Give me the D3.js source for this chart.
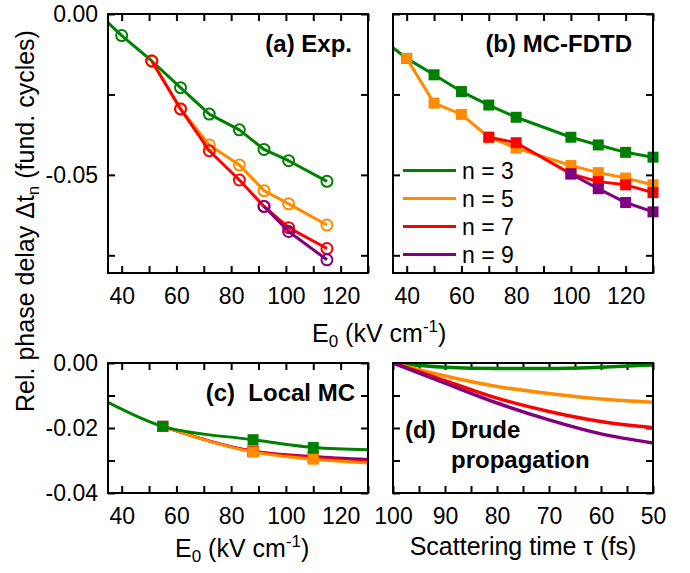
<!DOCTYPE html>
<html>
<head>
<meta charset="utf-8">
<script src="https://cdn.jsdelivr.net/npm/d3@7"></script>
<style>
  body { margin: 0; background: #fff; }
  svg { font-family: "Liberation Sans", Arial, sans-serif; }
</style>
</head>
<body>
<svg id="chart" width="690" height="573"></svg>
<script>
// (a) experiment
var expField = [35, 40, 51, 61.5, 72, 83, 92, 101, 115];
var expN3 = [-0.0027, -0.0067, -0.0146, -0.0229, -0.0311, -0.0360, -0.0421, -0.0456, -0.0520];
var expN5 = [null, null, -0.0146, -0.0295, -0.0407, -0.0469, -0.0549, -0.0590, -0.0656];
var expN7 = [null, null, -0.0146, -0.0295, -0.0425, -0.0516, -0.0598, -0.0664, -0.0729];
var expN9 = [null, null, null, null, null, null, -0.0598, -0.0676, -0.0764];

// (b) MC-FDTD
var fdtdField = [35, 40, 50, 60, 70, 80, 100, 110, 120, 130];
var fdtdN3 = [-0.0105, -0.0138, -0.0189, -0.0241, -0.0283, -0.0321, -0.0383, -0.0407, -0.0430, -0.0445];
var fdtdN5 = [null, -0.0138, -0.0277, -0.0312, -0.0383, -0.0417, -0.0471, -0.0493, -0.0510, -0.0531];
var fdtdN7 = [null, null, null, null, -0.0383, -0.0400, -0.0497, -0.0521, -0.0531, -0.0555];
var fdtdN9 = [null, null, null, null, null, null, -0.0497, -0.0543, -0.0586, -0.0615];

// (c) local MC (fit line, markers only at simulated fields)
var mcField = [35, 55, 88, 110, 130];
var mcMarkField = [55, 88, 110];
var mcN3 = [-0.0121, -0.0195, -0.0236, -0.0260, -0.0267];
var mcN5 = [null, -0.0195, -0.0274, -0.0296, -0.0308];
var mcN7 = [null, -0.0195, -0.0272, -0.0291, -0.0304];
var mcN9 = [null, -0.0195, -0.0271, -0.0288, -0.0297];

// (d) Drude propagation
var tau = [100, 90, 80, 70, 60, 50];
var drudeN3 = [0, -0.0013, -0.0017, -0.0017, -0.0013, -0.0006];
var drudeN5 = [0, -0.0040, -0.0072, -0.0094, -0.0111, -0.0121];
var drudeN7 = [0, -0.0054, -0.0108, -0.0149, -0.0180, -0.0199];
var drudeN9 = [0, -0.0062, -0.0123, -0.0175, -0.0218, -0.0246];

var harmonics = ["n = 3", "n = 5", "n = 7", "n = 9"];
var colors = ["#008000", "#ff8c00", "#ff0000", "#800080"];

var fieldTicks = [40, 50, 60, 70, 80, 90, 100, 110, 120, 130];
var fieldTickLabels = ["40", "", "60", "", "80", "", "100", "", "120", ""];
var topYTicks = [0, -0.025, -0.05, -0.075];
var topYTickLabels = ["0.00", "", "-0.05", ""];
var botYTicks = [0, -0.01, -0.02, -0.03, -0.04];
var botYTickLabels = ["0.00", "", "-0.02", "", "-0.04"];
var tauTicks = [100, 95, 90, 85, 80, 75, 70, 65, 60, 55, 50];
var tauTickLabels = ["100", "", "90", "", "80", "", "70", "", "60", "", "50"];

var svg = d3.select("#chart");
var TICK = 7;

function zip(xs, ys) {
  var out = [];
  xs.forEach(function (x, i) { if (ys[i] !== null) out.push({ x: x, y: ys[i] }); });
  return out;
}

function drawPanel(o) {
  var x = d3.scaleLinear().domain(o.xDomain).range([o.left, o.right]);
  var y = d3.scaleLinear().domain(o.yDomain).range([o.bottom, o.top]);
  var g = svg.append("g");

  var clipId = "clip-" + o.id;
  svg.append("clipPath").attr("id", clipId)
    .append("rect")
    .attr("x", o.left).attr("y", o.top)
    .attr("width", o.right - o.left).attr("height", o.bottom - o.top);

  // axes, ticks pointing inwards on all four sides
  function labelFor(vals, labels) {
    return function (d) { return labels[vals.indexOf(d)]; };
  }
  var bottom = g.append("g").attr("transform", "translate(0," + o.bottom + ")")
    .call(d3.axisBottom(x).tickValues(o.xTicks).tickSizeInner(-TICK).tickSizeOuter(0)
      .tickPadding(15).tickFormat(labelFor(o.xTicks, o.xTickLabels)));
  var top = g.append("g").attr("transform", "translate(0," + o.top + ")")
    .call(d3.axisTop(x).tickValues(o.xTicks).tickSizeInner(-TICK).tickSizeOuter(0).tickFormat(""));
  var left = g.append("g").attr("transform", "translate(" + o.left + ",0)")
    .call(d3.axisLeft(y).tickValues(o.yTicks).tickSizeInner(-TICK).tickSizeOuter(0)
      .tickPadding(10).tickFormat(o.showY ? labelFor(o.yTicks, o.yTickLabels) : ""));
  var right = g.append("g").attr("transform", "translate(" + o.right + ",0)")
    .call(d3.axisRight(y).tickValues(o.yTicks).tickSizeInner(-TICK).tickSizeOuter(0).tickFormat(""));

  [bottom, top, left, right].forEach(function (a) {
    a.select(".domain").remove();
    a.selectAll(".tick line").attr("stroke", "#000").attr("stroke-width", 2);
    a.selectAll(".tick text").attr("font-size", 23).attr("fill", "#000")
      .attr("font-family", "'Liberation Sans', Arial, sans-serif");
  });

  // series
  var line = d3.line()
    .x(function (d) { return x(d.x); })
    .y(function (d) { return y(d.y); })
    .curve(o.curve || d3.curveLinear);

  o.series.forEach(function (vals, i) {
    var pts = zip(o.xValues, vals);
    g.append("path")
      .attr("clip-path", "url(#" + clipId + ")")
      .attr("d", line(pts))
      .attr("fill", "none")
      .attr("stroke", colors[i])
      .attr("stroke-width", o.lineWidth || 3)
      .attr("stroke-linejoin", "round");

    var marks = pts.filter(o.markerTest || function () { return false; });
    if (o.marker === "circle") {
      g.selectAll(null).data(marks).enter().append("circle")
        .attr("cx", function (d) { return x(d.x); })
        .attr("cy", function (d) { return y(d.y); })
        .attr("r", 5.5)
        .attr("fill", "none")
        .attr("stroke", colors[i])
        .attr("stroke-width", 2);
    } else if (o.marker === "square") {
      g.selectAll(null).data(marks).enter().append("rect")
        .attr("x", function (d) { return x(d.x) - 5.5; })
        .attr("y", function (d) { return y(d.y) - 5.5; })
        .attr("width", 11).attr("height", 11)
        .attr("fill", colors[i]);
    }
  });

  // frame
  g.append("rect")
    .attr("x", o.left).attr("y", o.top)
    .attr("width", o.right - o.left).attr("height", o.bottom - o.top)
    .attr("fill", "none").attr("stroke", "#000").attr("stroke-width", 2);

  return { x: x, y: y, g: g };
}

var fieldDomain = [35, 130];
var topDomain = [-0.0805, 0];
var botDomain = [-0.04, 0];

var pa = drawPanel({
  id: "a", left: 108, right: 368, top: 14, bottom: 273,
  xDomain: fieldDomain, yDomain: topDomain,
  xTicks: fieldTicks, xTickLabels: fieldTickLabels,
  yTicks: topYTicks, yTickLabels: topYTickLabels, showY: true,
  xValues: expField, series: [expN3, expN5, expN7, expN9],
  marker: "circle", markerTest: function (d) { return d.x > 35; }
});

var pb = drawPanel({
  id: "b", left: 393, right: 653, top: 14, bottom: 273,
  xDomain: fieldDomain, yDomain: topDomain,
  xTicks: fieldTicks, xTickLabels: fieldTickLabels,
  yTicks: topYTicks, yTickLabels: topYTickLabels, showY: false,
  xValues: fdtdField, series: [fdtdN3, fdtdN5, fdtdN7, fdtdN9],
  marker: "square", markerTest: function (d) { return d.x > 35; }
});

// panel c: draw n=3 last so its markers sit on top
var pc = drawPanel({
  id: "c", left: 108, right: 368, top: 363, bottom: 493,
  xDomain: fieldDomain, yDomain: botDomain,
  xTicks: fieldTicks, xTickLabels: fieldTickLabels,
  yTicks: botYTicks, yTickLabels: botYTickLabels, showY: true,
  xValues: mcField, series: [], curve: d3.curveMonotoneX
});
(function () {
  var line = d3.line().x(function (d) { return pc.x(d.x); }).y(function (d) { return pc.y(d.y); })
    .curve(d3.curveMonotoneX);
  var order = [3, 2, 1, 0];
  var sets = [mcN3, mcN5, mcN7, mcN9];
  var layer = pc.g.insert("g", "rect:last-of-type");
  order.forEach(function (i) {
    var pts = zip(mcField, sets[i]);
    layer.append("path").attr("clip-path", "url(#clip-c)")
      .attr("d", line(pts)).attr("fill", "none")
      .attr("stroke", colors[i]).attr("stroke-width", 3);
    layer.selectAll(null).data(pts.filter(function (d) { return mcMarkField.indexOf(d.x) >= 0; }))
      .enter().append("rect")
      .attr("x", function (d) { return pc.x(d.x) - 5.5; })
      .attr("y", function (d) { return pc.y(d.y) - 5.5; })
      .attr("width", 11).attr("height", 11)
      .attr("fill", colors[i]);
  });
})();

var pd = drawPanel({
  id: "d", left: 393, right: 653, top: 363, bottom: 493,
  xDomain: [100, 50], yDomain: botDomain,
  xTicks: tauTicks, xTickLabels: tauTickLabels,
  yTicks: botYTicks, yTickLabels: botYTickLabels, showY: false,
  xValues: tau, series: [drudeN3, drudeN5, drudeN7, drudeN9],
  curve: d3.curveMonotoneX, lineWidth: 3.5
});

// panel titles
function title(txt, x, y, anchor) {
  svg.append("text").attr("x", x).attr("y", y).attr("text-anchor", anchor || "end")
    .attr("font-size", 24).attr("font-weight", "bold").text(txt);
}
title("(a) Exp.", 352, 52);
title("(b) MC-FDTD", 632, 52);
title("(c)\u00a0\u00a0Local MC", 355, 401);
title("(d)", 405, 438, "start");
title("Drude", 451, 438, "start");
title("propagation", 451, 468, "start");

// legend in panel b
var legend = svg.append("g");
harmonics.forEach(function (h, i) {
  var yy = 170.5 + i * 28;
  legend.append("line").attr("x1", 403).attr("x2", 456).attr("y1", yy).attr("y2", yy)
    .attr("stroke", colors[i]).attr("stroke-width", 3);
  legend.append("text").attr("x", 462).attr("y", yy + 8).attr("font-size", 23).text(h);
});

// axis labels
function fieldLabel(x, y) {
  var t = svg.append("text").attr("x", x).attr("y", y).attr("font-size", 25);
  t.append("tspan").text("E");
  t.append("tspan").attr("font-size", 17).attr("dy", 5).text("0");
  t.append("tspan").attr("dy", -5).text(" (kV cm");
  t.append("tspan").attr("font-size", 17).attr("dy", -10).text("-1");
  t.append("tspan").attr("dy", 10).text(")");
}
fieldLabel(312, 342);
fieldLabel(175, 557);

svg.append("text").attr("x", 523).attr("y", 555).attr("text-anchor", "middle")
  .attr("font-size", 25).text("Scattering time \u03c4 (fs)");

var yl = svg.append("text")
  .attr("transform", "translate(34,221) rotate(-90)")
  .attr("text-anchor", "middle").attr("font-size", 25);
yl.append("tspan").text("Rel. phase delay \u0394t");
yl.append("tspan").attr("font-size", 17).attr("dy", 5).text("n");
yl.append("tspan").attr("dy", -5).text(" (fund. cycles)");
</script>
</body>
</html>
